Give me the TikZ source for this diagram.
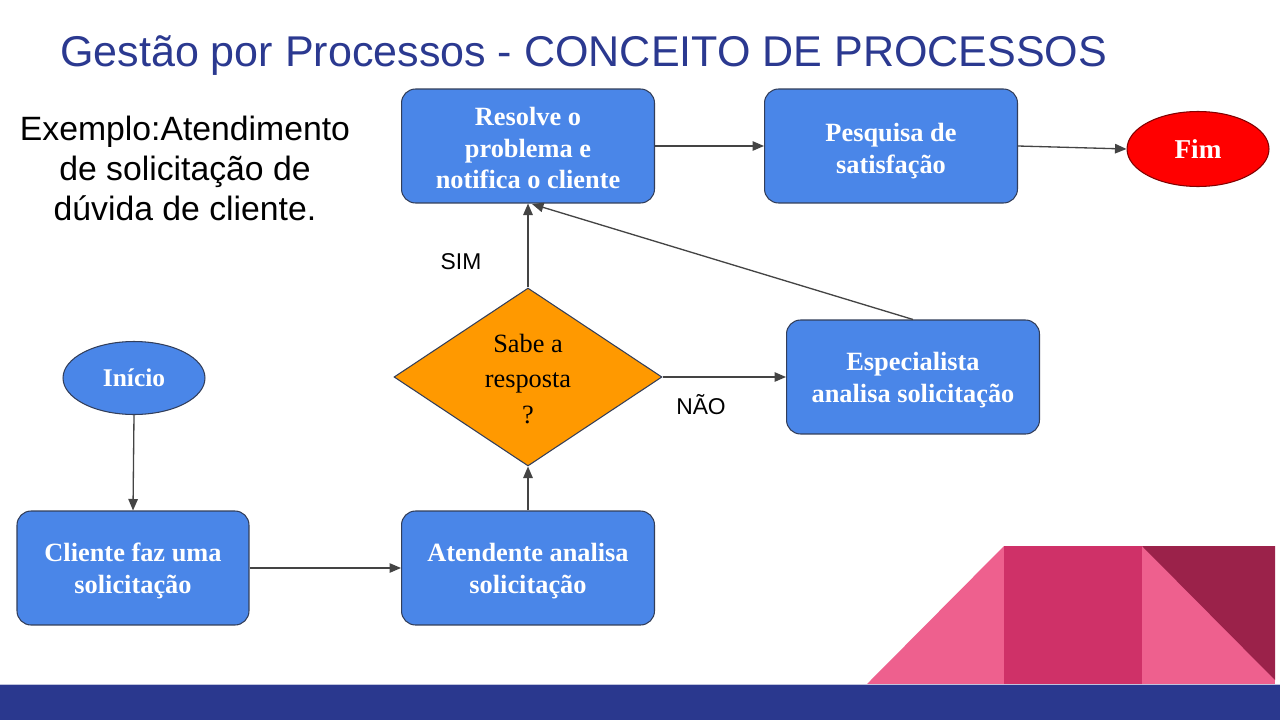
\documentclass[tikz,border=0pt]{standalone}
\usepackage{fontspec}
\setmainfont{Liberation Serif}
\setsansfont{Liberation Sans}
\usetikzlibrary{shapes.geometric,arrows.meta}
\definecolor{titleblue}{RGB}{43,57,144}
\definecolor{boxblue}{RGB}{74,134,232}
\definecolor{boxedge}{RGB}{50,62,90}
\definecolor{decorange}{RGB}{255,153,0}
\definecolor{conn}{RGB}{68,68,68}
\definecolor{pinkA}{RGB}{238,96,142}
\definecolor{pinkB}{RGB}{207,49,104}
\definecolor{pinkC}{RGB}{155,34,74}
\definecolor{barblue}{RGB}{42,56,142}
\tikzset{
  procbox/.style={draw=boxedge, line width=0.6pt, fill=boxblue, rounded corners=0.28cm,
    minimum width=5.06cm, minimum height=2.28cm, align=center, text=white,
    font=\fontsize{15}{18.2}\selectfont\bfseries, inner sep=2pt},
  procboxtext/.style={align=center, text=white,
    font=\fontsize{15}{18.2}\selectfont\bfseries, inner sep=0pt},
  termnode/.style={draw=boxedge, line width=0.6pt, fill=boxblue, ellipse,
    minimum width=2.84cm, minimum height=1.46cm, text=white,
    font=\fontsize{14.5}{17}\selectfont\bfseries, inner sep=0pt},
  decisionshape/.style={draw=boxedge, line width=0.6pt, fill=decorange, diamond,
    minimum width=5.36cm, minimum height=3.56cm, inner sep=0pt},
  conn/.style={draw=conn, line width=0.75pt, -{Triangle[length=0.23cm, width=0.19cm]}},
  edgelabel/.style={font=\sffamily\fontsize{13}{15}\selectfont, text=black},
}
\begin{document}
\begin{tikzpicture}[x=0.02cm, y=-0.02cm]
\useasboundingbox (0,0) rectangle (1280,720);
\fill[white] (0,0) rectangle (1280,720);

% decoration bottom right
\fill[pinkA] (867,684) -- (1004,546) -- (1004,684) -- cycle;
\fill[pinkB] (1004,546) rectangle (1142,684);
\fill[pinkA] (1142,546) rectangle (1275,684);
\fill[pinkC] (1142,546) -- (1275,546) -- (1275,680) -- cycle;
\fill[barblue] (0,684) rectangle (1280,720);
\draw[white!70!barblue, line width=0.6pt] (0,684.5) -- (1280,684.5);

% title
\node[anchor=west, text=titleblue, font=\sffamily\fontsize{24.5}{28}\selectfont] (title) at (54,56)
  {Gestão por Processos - CONCEITO DE PROCESSOS};

% example text
\node[align=center, font=\sffamily\fontsize{19.2}{22.8}\selectfont, text=black] (exemplo) at (185,168)
  {Exemplo:Atendimento\\de solicitação de\\dúvida de cliente.};

% nodes
\node[procbox] (resolve) at (528,146) {};
\node[procboxtext] (resolvetxt) at (528,148) {Resolve o\\problema e\\notifica o cliente};
\node[procbox] (pesquisa) at (891,146) {};
\node[procboxtext] (pesquisatxt) at (891,151) {Pesquisa de\\satisfação};
\node[termnode, fill=red, draw=red!50!black, minimum height=1.5cm, font=\fontsize{15.5}{18}\selectfont\bfseries] (fim) at (1198,149) {Fim};
\node[procbox] (especialista) at (913,377) {};
\node[procboxtext] (especialistatxt) at (913,380) {Especialista\\analisa solicitação};
\node[decisionshape] (decisao) at (528,377) {};
\node[align=center, font=\fontsize{15}{20}\selectfont, text=black] (decisaotxt) at (528,379) {Sabe a\\resposta\\?};
\node[termnode] (inicio) at (134,378) {Início};
\node[procbox, minimum width=4.64cm] (cliente) at (133,568) {};
\node[procboxtext] (clientetxt) at (133,571) {Cliente faz uma\\solicitação};
\node[procbox] (atendente) at (528,568) {};
\node[procboxtext] (atendentetxt) at (528,571) {Atendente analisa\\solicitação};

% connectors
\draw[conn] (inicio.south) -- (cliente.north);
\draw[conn] (cliente.east) -- (atendente.west);
\draw[conn] (atendente.north) -- (decisao.south);
\draw[conn] (decisao.north) -- (resolve.south);
\draw[conn] (decisao.east) -- (especialista.west);
\coordinate (resin) at (532,204);
\draw[conn] (especialista.north) -- (resin);
\draw[conn] (resolve.east) -- (pesquisa.west);
\draw[conn] (pesquisa.east) -- (fim.west);

% labels
\node[edgelabel] (sim) at (461,262) {SIM};
\node[edgelabel] (nao) at (701,405) {NÃO};
\end{tikzpicture}
\end{document}
